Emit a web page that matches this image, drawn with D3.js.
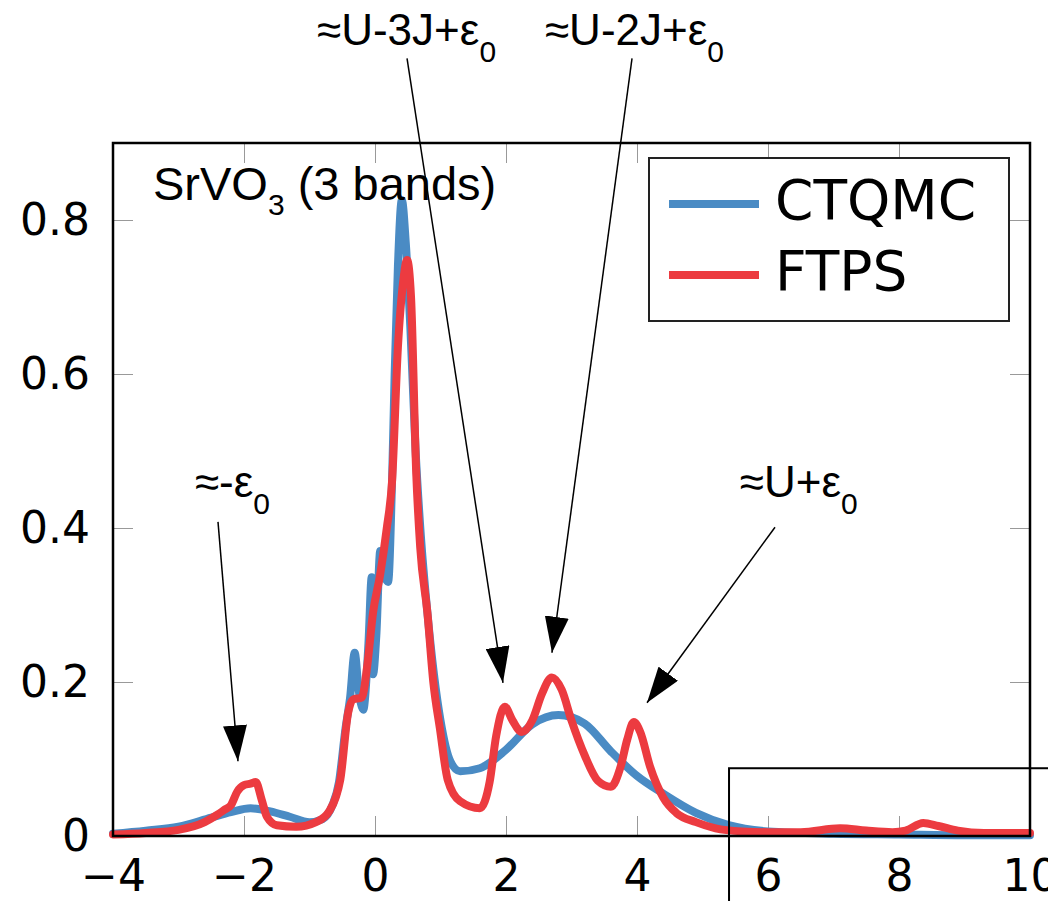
<!DOCTYPE html>
<html>
<head>
<meta charset="utf-8">
<script src="https://cdn.jsdelivr.net/npm/d3@7"></script>
<style>
  body { margin: 0; background: #fff; }
  svg { display: block; }
</style>
</head>
<body>
<div id="chart"></div>
<script>
// Spectral function, CTQMC (blue) vs FTPS (red)
const ctqmcX = [-4, -3.5, -3, -2.5, -2.2, -1.9, -1.6, -1.3, -1.0, -0.8, -0.65, -0.55, -0.45, -0.38, -0.31, -0.25, -0.18, -0.1, -0.05, -0.03, 0.02, 0.08, 0.14, 0.2, 0.26, 0.3, 0.35, 0.41, 0.47, 0.54, 0.62, 0.7, 0.8, 0.9, 1.0, 1.15, 1.3, 1.6, 2.0, 2.4, 2.8, 3.2, 3.6, 4.0, 4.4, 4.9, 5.4, 6.0, 7.0, 8.0, 9.0, 10];
const ctqmcY = [0.003, 0.007, 0.012, 0.024, 0.031, 0.036, 0.032, 0.025, 0.018, 0.022, 0.04, 0.07, 0.14, 0.18, 0.238, 0.19, 0.164, 0.25, 0.336, 0.21, 0.26, 0.37, 0.34, 0.33, 0.46, 0.6, 0.74, 0.826, 0.77, 0.66, 0.5, 0.39, 0.29, 0.21, 0.15, 0.097, 0.084, 0.088, 0.112, 0.145, 0.157, 0.146, 0.11, 0.078, 0.055, 0.03, 0.014, 0.006, 0.003, 0.002, 0.001, 0.001];

const ftpsX = [-4, -3.5, -3, -2.6, -2.4, -2.3, -2.2, -2.1, -2.0, -1.9, -1.82, -1.73, -1.65, -1.5, -1.2, -0.9, -0.7, -0.6, -0.53, -0.41, -0.34, -0.2, -0.12, -0.03, 0.08, 0.18, 0.26, 0.35, 0.43, 0.49, 0.55, 0.63, 0.69, 0.8, 0.89, 0.99, 1.11, 1.3, 1.6, 1.75, 1.85, 1.98, 2.1, 2.24, 2.4, 2.55, 2.7, 2.85, 3.0, 3.2, 3.4, 3.6, 3.75, 3.85, 3.95, 4.05, 4.2, 4.4, 4.6, 4.9, 5.2, 5.6, 6.0, 6.5, 7.1, 7.5, 7.9, 8.1, 8.37, 8.6, 8.9, 9.3, 10];
const ftpsY = [0.002, 0.004, 0.008, 0.018, 0.028, 0.034, 0.04, 0.058, 0.066, 0.068, 0.07, 0.047, 0.025, 0.014, 0.012, 0.018, 0.032, 0.05, 0.073, 0.16, 0.177, 0.18, 0.22, 0.29, 0.34, 0.4, 0.46, 0.635, 0.72, 0.748, 0.7, 0.47, 0.375, 0.29, 0.2, 0.14, 0.073, 0.045, 0.036, 0.07, 0.13, 0.168, 0.15, 0.135, 0.15, 0.185, 0.206, 0.19, 0.15, 0.105, 0.072, 0.064, 0.09, 0.125, 0.148, 0.135, 0.09, 0.05, 0.03, 0.018, 0.01, 0.006, 0.005, 0.005, 0.01, 0.007, 0.005, 0.007, 0.017, 0.013, 0.007, 0.004, 0.004];

const xTicks = [-4, -2, 0, 2, 4, 6, 8, 10];
const yTicks = [0, 0.2, 0.4, 0.6, 0.8];

const seriesNames = ["CTQMC", "FTPS"];
const seriesColors = ["#4a8bc4", "#ec3b40"];

// annotation labels: text, label anchor, arrow start, arrow tip (data coords)
const annoText = ["≈-ε", "≈U-3J+ε", "≈U-2J+ε", "≈U+ε"];
const annoLabelX = [-2.75, -0.885, 2.595, 5.57];
const annoLabelY = [0.44, 1.027, 1.027, 0.44];
const annoFromX = [-2.397, 0.489, 3.924, 6.107];
const annoFromY = [0.408, 1.01, 1.01, 0.401];
const annoToX = [-2.092, 1.954, 2.702, 4.153];
const annoToY = [0.097, 0.199, 0.238, 0.173];

const margin = { top: 143, right: 18, bottom: 65, left: 113 },
      width = 1048 - margin.left - margin.right,
      height = 901 - margin.top - margin.bottom;

const svg = d3.select("#chart")
    .append("svg")
    .attr("width", 1048)
    .attr("height", 901)
    .append("g")
    .attr("transform", `translate(${margin.left},${margin.top})`);

const x = d3.scaleLinear().domain([-4, 10]).range([0, width]);
const y = d3.scaleLinear().domain([0, 0.9]).range([height, 0]);

const tickFont = "'DejaVu Sans', sans-serif";

// axes with inward ticks
const axBottom = svg.append("g")
    .attr("transform", `translate(0,${height})`)
    .call(d3.axisBottom(x).tickValues(xTicks).tickSize(-20).tickPadding(24));
const axLeft = svg.append("g")
    .call(d3.axisLeft(y).tickValues(yTicks).tickSize(-20).tickPadding(23).tickFormat(d3.format("~g")));
const axTop = svg.append("g")
    .call(d3.axisTop(x).tickValues(xTicks).tickSize(-20).tickFormat(""));
const axRight = svg.append("g")
    .attr("transform", `translate(${width},0)`)
    .call(d3.axisRight(y).tickValues(yTicks).tickSize(-20).tickFormat(""));

[axBottom, axLeft, axTop, axRight].forEach(g => {
    g.select(".domain").remove();
    g.selectAll(".tick line").attr("stroke", "#999").attr("stroke-width", 1);
    g.selectAll("text")
        .attr("fill", "#000")
        .style("font-family", tickFont)
        .style("font-size", "44px");
});

// curves
const line = d3.line()
    .x(d => x(d[0]))
    .y(d => y(d[1]))
    .curve(d3.curveMonotoneX);

const series = [
    d3.zip(ctqmcX, ctqmcY),
    d3.zip(ftpsX, ftpsY)
];

svg.selectAll(".series")
    .data(series)
    .join("path")
    .attr("class", "series")
    .attr("d", line)
    .attr("fill", "none")
    .attr("stroke", (d, i) => seriesColors[i])
    .attr("stroke-width", 8)
    .attr("stroke-linejoin", "round")
    .attr("stroke-linecap", "round");

// frame
svg.append("rect")
    .attr("width", width)
    .attr("height", height)
    .attr("fill", "none")
    .attr("stroke", "#000")
    .attr("stroke-width", 2.5);

// inset box (runs off the page)
svg.append("rect")
    .attr("x", x(5.405))
    .attr("y", y(0.088))
    .attr("width", 400)
    .attr("height", 200)
    .attr("fill", "none")
    .attr("stroke", "#000")
    .attr("stroke-width", 2);

// title
const title = svg.append("text")
    .attr("x", 40)
    .attr("y", 57)
    .style("font-family", "'Liberation Sans', Arial, sans-serif")
    .style("font-size", "47px");
title.append("tspan").text("SrVO");
title.append("tspan").attr("dy", 15).style("font-size", "30px").text("3");
title.append("tspan").attr("dy", -15).text(" (3 bands)");

// legend
const legend = svg.append("g").attr("transform", `translate(${649 - margin.left},${158 - margin.top})`);
legend.append("rect")
    .attr("width", 360)
    .attr("height", 163)
    .attr("fill", "#fff")
    .attr("stroke", "#222")
    .attr("stroke-width", 2);
seriesNames.forEach((name, i) => {
    const ly = 46 + i * 71;
    legend.append("line")
        .attr("x1", 20).attr("x2", 110)
        .attr("y1", ly).attr("y2", ly)
        .attr("stroke", seriesColors[i])
        .attr("stroke-width", 8);
    legend.append("text")
        .attr("x", 126)
        .attr("y", ly + 15)
        .style("font-family", tickFont)
        .style("font-size", "55px")
        .text(name);
});

// arrows
svg.append("defs").append("marker")
    .attr("id", "head")
    .attr("viewBox", "0 0 36 24")
    .attr("refX", 36)
    .attr("refY", 12)
    .attr("markerWidth", 36)
    .attr("markerHeight", 24)
    .attr("markerUnits", "userSpaceOnUse")
    .attr("orient", "auto")
    .append("path")
    .attr("d", "M0,0L36,12L0,24Z")
    .attr("fill", "#000");

annoText.forEach((t, i) => {
    svg.append("line")
        .attr("x1", x(annoFromX[i])).attr("y1", y(annoFromY[i]))
        .attr("x2", x(annoToX[i])).attr("y2", y(annoToY[i]))
        .attr("stroke", "#000")
        .attr("stroke-width", 1.5)
        .attr("marker-end", "url(#head)");
    const lab = svg.append("text")
        .attr("x", x(annoLabelX[i]))
        .attr("y", y(annoLabelY[i]))
        .style("font-family", "'Liberation Sans', Arial, sans-serif")
        .style("font-size", "44px");
    lab.append("tspan").text(t);
    lab.append("tspan").attr("dy", 17).style("font-size", "30px").text("0");
});
</script>
</body>
</html>
